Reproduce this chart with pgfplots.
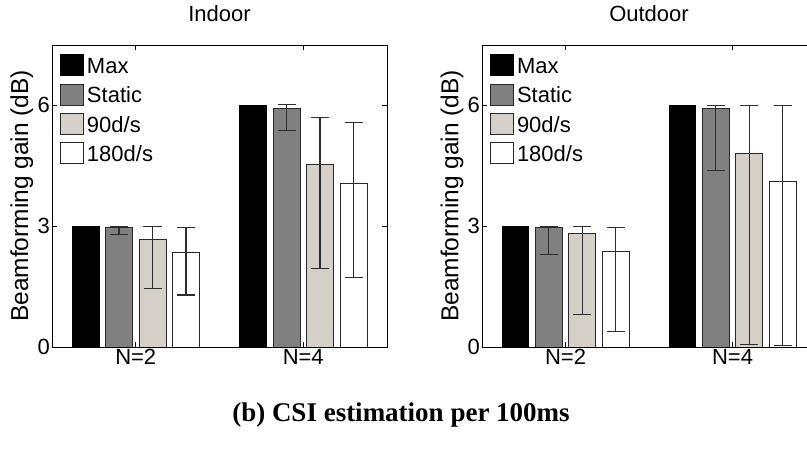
\documentclass[border=0pt]{standalone}
\usepackage{fontspec}
\setmainfont{Liberation Sans}
\newfontfamily\capfont{Liberation Serif}
\usepackage{pgfplots}
\usepackage{pgfplotstable}
\pgfplotsset{compat=1.18}
\definecolor{statcol}{RGB}{128,128,128}
\definecolor{ninecol}{RGB}{212,208,200}
\definecolor{edgecol}{RGB}{40,40,40}
\definecolor{errcol}{RGB}{45,45,45}

% bars are placed at category +/- 0.1, 0.3 (categories N=2 at 1, N=4 at 2)
% Indoor
\pgfplotstableread{
x y ep em
0.7 3.00 0 0
1.7 6.00 0 0
}\inMax
\pgfplotstableread{
x y ep em
0.9 2.97 0.03 0.18
1.9 5.92 0.11 0.55
}\inStatic
\pgfplotstableread{
x y ep em
1.1 2.67 0.33 1.21
2.1 4.53 1.17 2.58
}\inNinety
\pgfplotstableread{
x y ep em
1.3 2.34 0.63 1.05
2.3 4.07 1.50 2.35
}\inOneEighty
% Outdoor
\pgfplotstableread{
x y ep em
0.7 3.00 0 0
1.7 6.00 0 0
}\outMax
\pgfplotstableread{
x y ep em
0.9 2.97 0.03 0.67
1.9 5.93 0.07 1.55
}\outStatic
\pgfplotstableread{
x y ep em
1.1 2.82 0.18 2.02
2.1 4.82 1.18 4.75
}\outNinety
\pgfplotstableread{
x y ep em
1.3 2.38 0.59 1.99
2.3 4.12 1.88 4.09
}\outOneEighty

\pgfplotsset{
 mybars/.style={
  scale only axis, height=302bp,
  xmin=0.5,xmax=2.5,ymin=0,ymax=7.5,
  xtick={1,2}, xticklabels={N=2,N=4},
  ytick={0,3,6},
  tick align=inside, major tick length=5bp,
  axis line style={line width=0.8bp},
  every tick/.style={black,line width=0.6bp},
  font=\fontsize{22bp}{26bp}\selectfont,
  /pgf/number format/assume math mode=true,
  yticklabel style={inner sep=2bp},
  xticklabel style={inner sep=2bp},
  ylabel={Beamforming gain (dB)},
  every axis y label/.style={at={(axis description cs:-0.09,0.5)}, rotate=90, anchor=center, font=\fontsize{24.5bp}{28bp}\selectfont},
  title style={at={(axis description cs:0.5,1)}, anchor=base, yshift=18bp},
  legend style={at={(axis description cs:0,1)}, anchor=north west,
    draw=none, fill=none, inner sep=0pt, xshift=8bp, yshift=-9bp,
    nodes={inner sep=0pt, text height=19bp, text depth=3bp},
    row sep=7bp, /tikz/column sep=3bp,
    cells={anchor=base west}},
  legend image code/.code={\draw[##1] (0bp,-2bp) rectangle (23bp,19bp);},
 },
 mybar/.style={ybar, bar width=0.16, bar shift=0, line width=0.8bp,
   error bars/y dir=both, error bars/y explicit,
   error bars/error mark=-,
   error bars/error bar style={errcol,line width=1.2bp},
   error bars/error mark options={errcol, line width=1.2bp, mark size=9bp, rotate=90}},
}

\begin{document}
\begin{tikzpicture}
\begin{axis}[mybars, width=335bp, at={(52bp,116bp)}, anchor=south west, title={Indoor}]
\addplot[mybar, fill=black, draw=black] table[x=x,y=y] {\inMax};
\addplot[mybar, fill=statcol, draw=edgecol] table[x=x,y=y,y error plus=ep,y error minus=em] {\inStatic};
\addplot[mybar, fill=ninecol, draw=edgecol] table[x=x,y=y,y error plus=ep,y error minus=em] {\inNinety};
\addplot[mybar, fill=white, draw=edgecol] table[x=x,y=y,y error plus=ep,y error minus=em] {\inOneEighty};
\legend{Max,Static,90d/s,180d/s}
\end{axis}
\begin{axis}[mybars, width=334bp, at={(482bp,116bp)}, anchor=south west, title={Outdoor}]
\addplot[mybar, fill=black, draw=black] table[x=x,y=y] {\outMax};
\addplot[mybar, fill=statcol, draw=edgecol] table[x=x,y=y,y error plus=ep,y error minus=em] {\outStatic};
\addplot[mybar, fill=ninecol, draw=edgecol] table[x=x,y=y,y error plus=ep,y error minus=em] {\outNinety};
\addplot[mybar, fill=white, draw=edgecol] table[x=x,y=y,y error plus=ep,y error minus=em] {\outOneEighty};
\legend{Max,Static,90d/s,180d/s}
\end{axis}
\node[anchor=base, font=\capfont\bfseries\fontsize{27bp}{32bp}\selectfont] at (401bp,41bp) {(b) CSI estimation per 100ms};
\pgfresetboundingbox
\path[use as bounding box] (0,0) rectangle (807bp,463bp);
\end{tikzpicture}
\end{document}
